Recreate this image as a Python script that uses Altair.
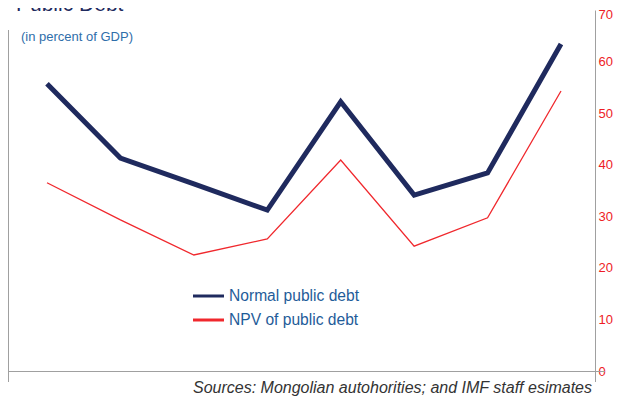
import altair as alt
import pandas as pd

# ---- data ----
periods = [0, 1, 2, 3, 4, 5, 6, 7]
normal_debt = [55.7, 41.3, 36.3, 31.2, 52.2, 34.1, 38.4, 63.4]
npv_debt = [36.5, 29.3, 22.5, 25.6, 40.9, 24.2, 29.7, 54.3]
series_names = ["Normal public debt", "NPV of public debt"]
series_colors = ["#1F2A5E", "#F0282D"]
series_widths = [5, 1.3]
y_ticks = [0, 10, 20, 30, 40, 50, 60, 70]
title_text = "Public Debt"
subtitle_text = "(in percent of GDP)"
source_text = "Sources: Mongolian autohorities; and IMF staff esimates"

FONT = "Liberation Sans"
AXIS_GRAY = "#A0A0A0"
W, H = 587, 361

df = pd.DataFrame({
    "period": periods * 2,
    "value": normal_debt + npv_debt,
    "series": [series_names[0]] * len(periods) + [series_names[1]] * len(periods),
})

x_scale = alt.Scale(domain=[-0.531, 7.463], nice=False, zero=False)
y_scale = alt.Scale(domain=[0, 70], nice=False, zero=True)

lines = alt.Chart(df).mark_line(strokeJoin="miter", strokeCap="butt").encode(
    x=alt.X("period:Q", scale=x_scale, axis=None),
    y=alt.Y(
        "value:Q",
        scale=y_scale,
        axis=alt.Axis(
            orient="right",
            values=y_ticks,
            grid=False,
            ticks=False,
            domain=True,
            domainColor=AXIS_GRAY,
            domainWidth=1,
            labelColor="#EE1C25",
            labelFont=FONT,
            labelFontSize=13,
            labelPadding=3,
            labelOffset=alt.condition("datum.value == 70", alt.value(4.5), alt.value(0)),
            labelBound=False,
            title=None,
        ),
    ),
    color=alt.Color("series:N", scale=alt.Scale(domain=series_names, range=series_colors), legend=None),
    strokeWidth=alt.StrokeWidth("series:N", scale=alt.Scale(domain=series_names, range=series_widths), legend=None),
    detail="series:N",
)

one = pd.DataFrame({"a": [0]})

left_line = alt.Chart(one).mark_rule(color=AXIS_GRAY, strokeWidth=1).encode(
    x=alt.value(0.5), y=alt.value(20), y2=alt.value(372)
)
bottom_line = alt.Chart(one).mark_rule(color=AXIS_GRAY, strokeWidth=1).encode(
    x=alt.value(0), x2=alt.value(597), y=alt.value(H + 0.5)
)
right_tick = alt.Chart(one).mark_rule(color=AXIS_GRAY, strokeWidth=1).encode(
    x=alt.value(W + 0.5), y=alt.value(H), y2=alt.value(372)
)

title = alt.Chart(pd.DataFrame({"t": [title_text]})).mark_text(
    font=FONT, fontSize=21, color="#1F2A5E", align="left", baseline="alphabetic"
).encode(text="t:N", x=alt.value(8), y=alt.value(1))

subtitle = alt.Chart(pd.DataFrame({"t": [subtitle_text]})).mark_text(
    font=FONT, fontSize=13, color="#2F6EAA", align="left", baseline="middle"
).encode(text="t:N", x=alt.value(13), y=alt.value(27))

source = alt.Chart(pd.DataFrame({"t": [source_text]})).mark_text(
    font=FONT, fontSize=16, fontStyle="italic", color="#333333", align="right", baseline="alphabetic"
).encode(text="t:N", x=alt.value(584), y=alt.value(383))

legend_layers = []
legend_y = [286, 310]
for name, col, ly in zip(series_names, series_colors, legend_y):
    ldf = pd.DataFrame({"t": [name]})
    legend_layers.append(
        alt.Chart(ldf).mark_rule(color=col, strokeWidth=3).encode(
            x=alt.value(185), x2=alt.value(216), y=alt.value(ly)
        )
    )
    legend_layers.append(
        alt.Chart(ldf).mark_text(
            font=FONT, fontSize=15.6, color="#1F5C99", align="left", baseline="middle"
        ).encode(text="t:N", x=alt.value(221), y=alt.value(ly))
    )

chart = alt.layer(
    left_line, bottom_line, right_tick, lines, title, subtitle, source, *legend_layers
).properties(
    width=W,
    height=H,
    autosize=alt.AutoSizeParams(type="none"),
    padding={"left": 0, "top": 2, "right": 18, "bottom": 27},
).configure_view(stroke=None)

chart.save("out.html", embed_options={"renderer": "svg", "actions": False})
